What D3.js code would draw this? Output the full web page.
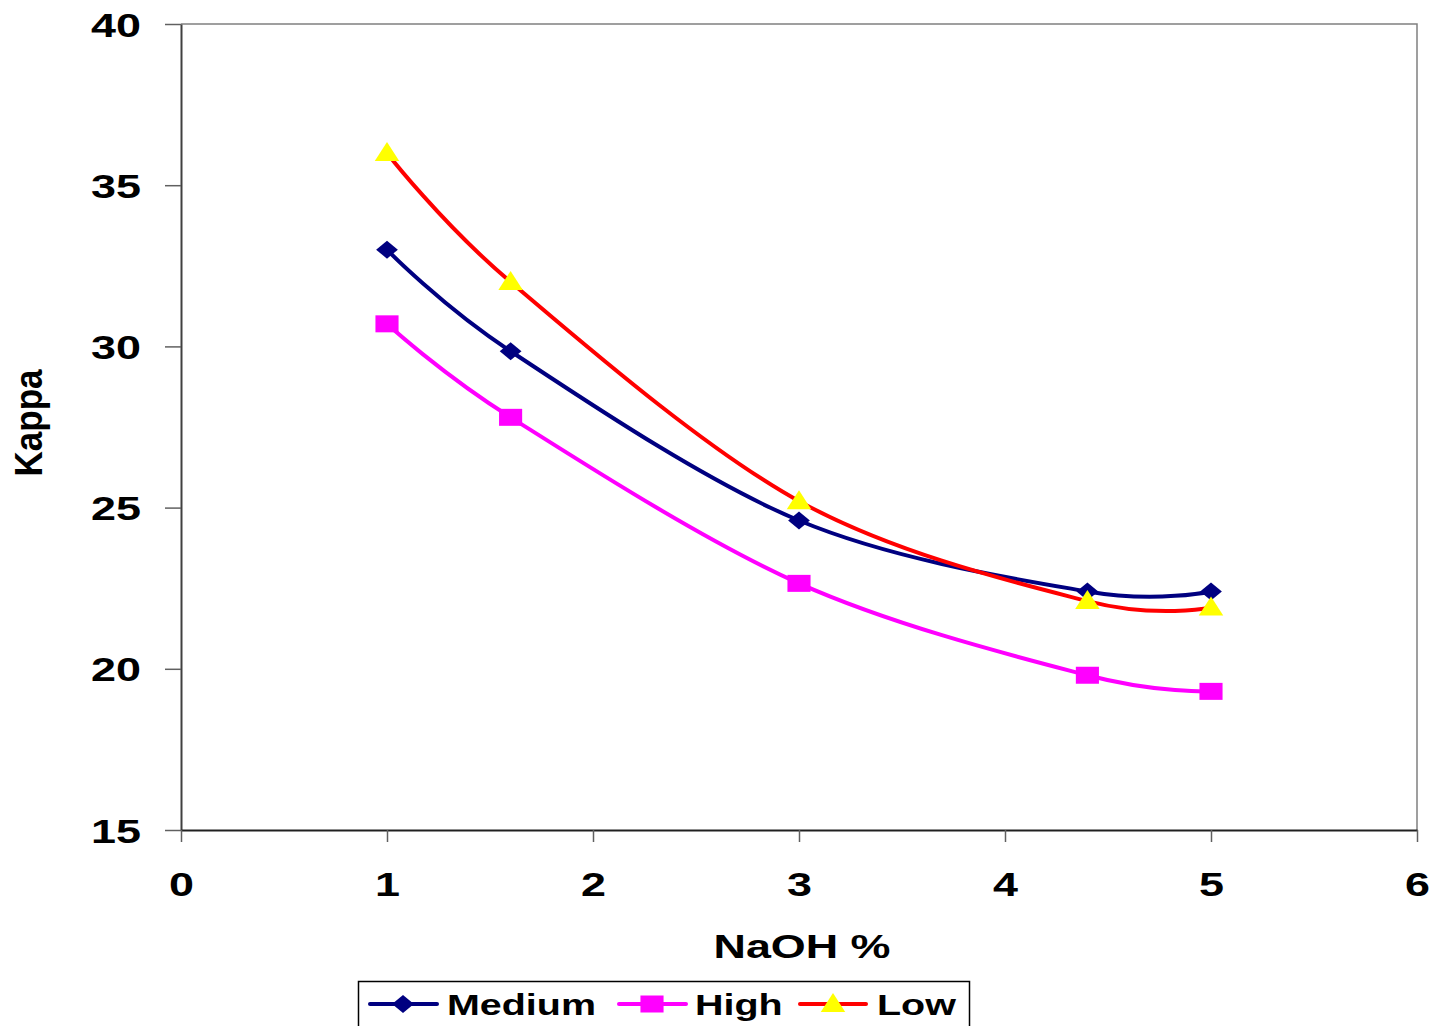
<!DOCTYPE html>
<html>
<head>
<meta charset="utf-8">
<script src="https://cdn.jsdelivr.net/npm/d3@7"></script>
<style>
  html, body { margin: 0; padding: 0; background: #fff; }
  svg { display: block; }
  text { font-family: "Liberation Sans", Arial, sans-serif; font-weight: bold; fill: #000; }
</style>
</head>
<body>
<svg id="chart" width="1437" height="1026"></svg>
<script>
// ---- data ----
const naoh = [1, 1.6, 3, 4.4, 5];
const medium = [33.0, 29.85, 24.6, 22.4, 22.4];
const high = [30.7, 27.8, 22.65, 19.8, 19.3];
const low = [36.0, 32.0, 25.2, 22.1, 21.9];
const seriesNames = ["Medium", "High", "Low"];
const xTicks = [0, 1, 2, 3, 4, 5, 6];
const yTicks = [15, 20, 25, 30, 35, 40];
const xTitle = "NaOH %";
const yTitle = "Kappa";

// ---- layout ----
const SX = 1.36; // horizontal stretch of the original rendering
const svg = d3.select("#chart");
const x = d3.scaleLinear().domain([0, 6]).range([181, 1417]);
const y = d3.scaleLinear().domain([15, 40]).range([830, 24]);

// plot border (top & right)
svg.append("path")
  .attr("d", `M${x(0)},${y(40)}H${x(6)}V${y(15)}`)
  .attr("fill", "none").attr("stroke", "#808080").attr("stroke-width", 1.5);

// y axis
const gy = svg.append("g").attr("transform", `translate(${x(0)},0)`)
  .call(d3.axisLeft(y).tickValues(yTicks).tickSize(16).tickSizeOuter(0).tickFormat(d3.format("d")));
gy.select(".domain").attr("stroke", "#404040").attr("stroke-width", 2);
gy.selectAll(".tick line").attr("stroke", "#606060").attr("stroke-width", 1.5);
gy.selectAll(".tick text")
  .attr("x", 0).attr("dy", null).attr("y", 12)
  .attr("text-anchor", "end")
  .attr("transform", `translate(-40,0) scale(${SX},1)`)
  .style("font-size", "33px").style("font-family", "'Liberation Sans', Arial, sans-serif").style("font-weight", "bold").attr("fill", "#000");

// x axis
const gx = svg.append("g").attr("transform", `translate(0,${y(15)})`)
  .call(d3.axisBottom(x).tickValues(xTicks).tickSize(12).tickSizeOuter(0).tickFormat(d3.format("d")));
gx.select(".domain").attr("stroke", "#202020").attr("stroke-width", 2);
gx.selectAll(".tick line").attr("stroke", "#606060").attr("stroke-width", 1.5);
gx.selectAll(".tick text")
  .attr("y", 0).attr("dy", null)
  .attr("text-anchor", "middle")
  .attr("transform", `translate(0,66) scale(${SX},1)`)
  .style("font-size", "33px").style("font-family", "'Liberation Sans', Arial, sans-serif").style("font-weight", "bold").attr("fill", "#000");

// axis titles
svg.append("g").attr("transform", `translate(802,958) scale(${SX},1)`)
  .append("text").attr("text-anchor", "middle").style("font-size", "33px").text(xTitle);
svg.append("g").attr("transform", `translate(42,423) scale(${SX},1) rotate(-90)`)
  .append("text").attr("text-anchor", "middle").style("font-size", "29px")
  .attr("textLength", 107).attr("lengthAdjust", "spacingAndGlyphs").text(yTitle);

// series
const series = [
  { name: seriesNames[0], values: medium, color: "#000080", marker: "diamond", fill: "#000080" },
  { name: seriesNames[1], values: high, color: "#FF00FF", marker: "square", fill: "#FF00FF" },
  { name: seriesNames[2], values: low, color: "#FF0000", marker: "triangle", fill: "#FFFF00" }
];

const line = d3.line().x(d => x(d[0])).y(d => y(d[1])).curve(d3.curveCatmullRom.alpha(0));

function markerPath(type) {
  if (type === "diamond") return "M0,-9L8,0L0,9L-8,0Z";
  if (type === "square") return "M-8.5,-8.5H8.5V8.5H-8.5Z";
  return "M0,-11L9,8H-9Z";
}

series.forEach(s => {
  const pts = naoh.map((v, i) => [v, s.values[i]]);
  svg.append("path").attr("d", line(pts)).attr("fill", "none")
    .attr("stroke", s.color).attr("stroke-width", 4).attr("stroke-linejoin", "round");
});
series.forEach(s => {
  const pts = naoh.map((v, i) => [v, s.values[i]]);
  svg.append("g").selectAll("path").data(pts).join("path")
    .attr("transform", d => `translate(${x(d[0])},${y(d[1])}) scale(${SX},1)`)
    .attr("d", markerPath(s.marker)).attr("fill", s.fill);
});

// legend
const lg = svg.append("g");
lg.append("rect").attr("x", 358.5).attr("y", 981.5).attr("width", 611).attr("height", 60)
  .attr("fill", "#fff").attr("stroke", "#000").attr("stroke-width", 1.5);
const legendPos = [
  { lx1: 370, lx2: 437, mx: 403, tx: 447 },
  { lx1: 619, lx2: 686, mx: 652, tx: 695 },
  { lx1: 800, lx2: 866, mx: 833, tx: 877 }
];
series.forEach((s, i) => {
  const p = legendPos[i];
  const ly = 1004;
  lg.append("line").attr("x1", p.lx1).attr("x2", p.lx2).attr("y1", ly).attr("y2", ly)
    .attr("stroke", s.color).attr("stroke-width", 4).attr("stroke-linecap", "round");
  lg.append("path").attr("transform", `translate(${p.mx},${ly}) scale(${SX},1)`)
    .attr("d", markerPath(s.marker)).attr("fill", s.fill);
  lg.append("g").attr("transform", `translate(${p.tx},${ly + 11}) scale(${SX},1)`)
    .append("text").style("font-size", "29px").text(s.name);
});
</script>
</body>
</html>
